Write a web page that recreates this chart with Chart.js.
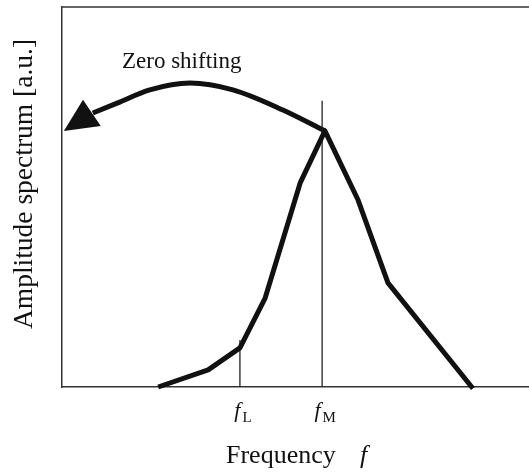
<!DOCTYPE html>
<html lang="en">
  <head>
    <meta charset="utf-8" />
    <title>Amplitude spectrum</title>
    <script src="https://cdn.jsdelivr.net/npm/chart.js@4/dist/chart.umd.min.js"></script>
    <style>
      body { margin: 0; background: #fff; }
      .chartContainer { width: 529px; height: 473px; }
    </style>
  </head>
  <body>
    <div class="chartContainer">
      <canvas id="myChart"></canvas>
    </div>

    <script>
      // spectrum (frequency / amplitude, arbitrary units)
      const specFreq = [20.6, 31.3, 38.1, 43.5, 51.0, 56.3, 63.4, 69.8, 88.0];
      const specAmp  = [0,    4.5,  10.3, 23.4, 53.7, 67.4, 49.2, 27.4, -0.4];

      // marker lines at f_L and f_M
      const tickFreq   = [38.1, 55.7];
      const tickTop    = [12.4, 75.3];
      const tickNames  = ['L', 'M'];

      // "zero shifting" arrow, from the peak back to f = 0
      const arrowFreq = [6.6, 11.8, 18.8, 27.4, 36.6, 47.3, 56.3];
      const arrowAmp  = [72.1, 74.7, 78.2, 80.0, 78.2, 72.9, 67.4];
      const headFreq  = [0.4, 4.5, 8.3];
      const headAmp   = [67.4, 75.6, 68.7];

      const serif = '"Liberation Serif", "Times New Roman", serif';
      const ink = '#111';

      const pts = (xs, ys) => xs.map((x, i) => ({ x: x, y: ys[i] }));

      // top frame line, arrow head and all the text
      const extras = {
        id: 'extras',
        afterDatasetsDraw(chart) {
          const { ctx, chartArea, scales } = chart;
          const xs = scales.x, ys = scales.y;
          ctx.save();

          ctx.strokeStyle = '#333';
          ctx.lineWidth = 1.5;
          ctx.beginPath();
          ctx.moveTo(chartArea.left, chartArea.top);
          ctx.lineTo(chartArea.right, chartArea.top);
          ctx.stroke();

          ctx.fillStyle = ink;
          ctx.beginPath();
          headFreq.forEach((f, i) => {
            const px = xs.getPixelForValue(f), py = ys.getPixelForValue(headAmp[i]);
            if (i === 0) ctx.moveTo(px, py); else ctx.lineTo(px, py);
          });
          ctx.closePath();
          ctx.fill();

          ctx.textBaseline = 'alphabetic';
          ctx.textAlign = 'left';
          ctx.font = '23px ' + serif;
          ctx.fillText('Zero shifting', 122, 68);

          // tick labels f_L, f_M
          tickFreq.forEach((f, i) => {
            const cx = xs.getPixelForValue(f);
            ctx.font = 'italic 22px ' + serif;
            const w1 = ctx.measureText('f').width;
            ctx.font = '15px ' + serif;
            const w2 = ctx.measureText(tickNames[i]).width;
            const x0 = cx - (w1 + w2) / 2 + 2;
            ctx.font = 'italic 22px ' + serif;
            ctx.fillText('f', x0, 417);
            ctx.font = '15px ' + serif;
            ctx.fillText(tickNames[i], x0 + w1 + 2, 422);
          });

          // x title
          ctx.font = '26px ' + serif;
          ctx.fillText('Frequency', 226, 463);
          ctx.font = 'italic 26px ' + serif;
          ctx.fillText('f', 360, 463);

          // y title
          ctx.translate(32, 184);
          ctx.rotate(-Math.PI / 2);
          ctx.textAlign = 'center';
          ctx.font = '27.5px ' + serif;
          ctx.fillText('Amplitude spectrum [a.u.]', 0, 0);

          ctx.restore();
        }
      };

      const ctx = document.getElementById('myChart').getContext('2d');
      const chart = new Chart(ctx, {
        type: 'line',
        data: {
          datasets: [
            {
              data: pts(specFreq, specAmp),
              borderColor: ink,
              borderWidth: 5,
              borderJoinStyle: 'round',
              pointRadius: 0,
              tension: 0,
              clip: false
            },
            {
              data: pts([tickFreq[0], tickFreq[0]], [0, tickTop[0]]),
              borderColor: '#222',
              borderWidth: 1.3,
              pointRadius: 0,
              clip: false
            },
            {
              data: pts([tickFreq[1], tickFreq[1]], [0, tickTop[1]]),
              borderColor: '#222',
              borderWidth: 1.3,
              pointRadius: 0,
              clip: false
            },
            {
              data: pts(arrowFreq, arrowAmp),
              borderColor: ink,
              borderWidth: 5,
              pointRadius: 0,
              cubicInterpolationMode: 'monotone',
              clip: false
            }
          ]
        },
        options: {
          responsive: true,
          maintainAspectRatio: false,
          animation: false,
          layout: { padding: { top: 7, right: 0, left: 0, bottom: 0 } },
          plugins: {
            legend: { display: false },
            tooltip: { enabled: false }
          },
          scales: {
            x: {
              type: 'linear',
              min: 0,
              max: 100,
              grid: { display: false },
              border: { color: '#333', width: 1.5 },
              ticks: { display: false },
              afterFit: (scale) => { scale.height = 86; }
            },
            y: {
              type: 'linear',
              min: 0,
              max: 100,
              grid: { display: false },
              border: { color: '#333', width: 1.5 },
              ticks: { display: false },
              afterFit: (scale) => { scale.width = 62; }
            }
          }
        },
        plugins: [extras]
      });
    </script>
  </body>
</html>
